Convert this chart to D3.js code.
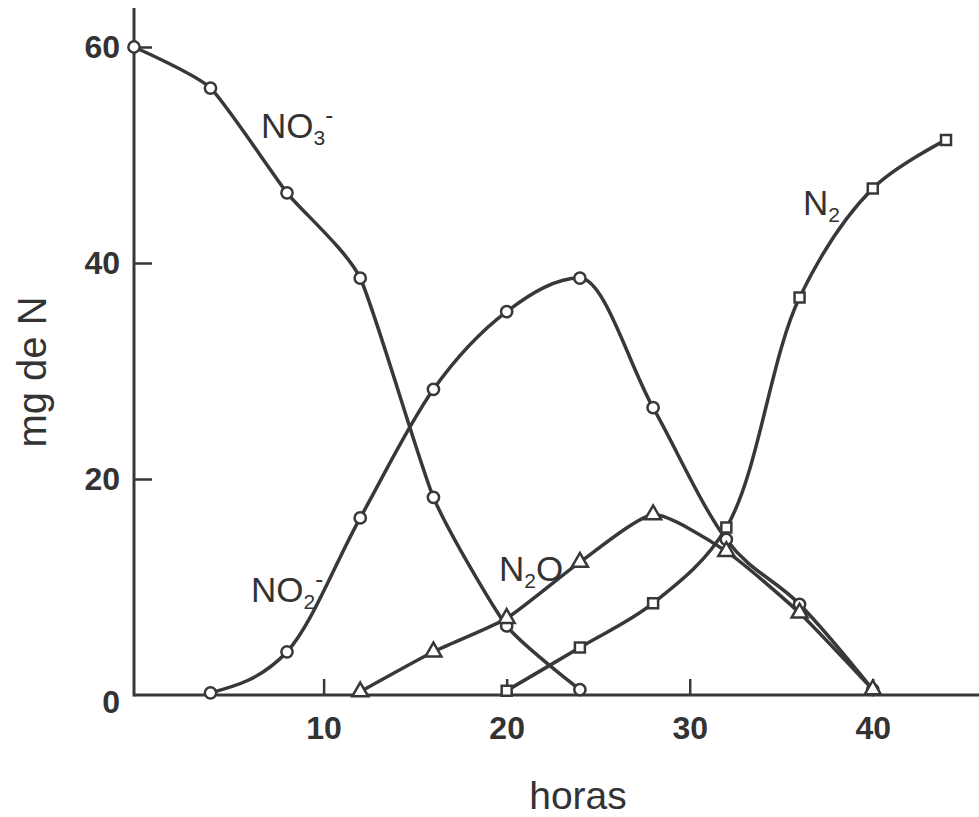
<!DOCTYPE html>
<html>
<head>
<meta charset="utf-8">
<script src="https://cdn.jsdelivr.net/npm/d3@7"></script>
<style>
  html, body { margin: 0; padding: 0; background: #fff; }
  svg { display: block; }
  text { font-family: "Liberation Sans", Arial, sans-serif; fill: #333; }
</style>
</head>
<body>
<div id="chart"></div>
<script>
// ---- data ----
const hoursNO3 = [0, 4, 8, 12, 16, 20, 24];
const valuesNO3 = [60, 56.2, 46.5, 38.6, 18.3, 6.4, 0.5];

const hoursNO2 = [4, 8, 12, 16, 20, 24, 28, 32, 36, 40];
const valuesNO2 = [0.2, 4.0, 16.4, 28.3, 35.5, 38.6, 26.6, 14.4, 8.4, 0.5];

const hoursN2O = [12, 16, 20, 24, 28, 32, 36, 40];
const valuesN2O = [0.3, 4.0, 7.1, 12.3, 16.7, 13.3, 7.6, 0.5];

const hoursN2 = [20, 24, 28, 32, 36, 40, 44];
const valuesN2 = [0.4, 4.4, 8.5, 15.5, 36.8, 46.9, 51.4];

const xTicks = [10, 20, 30, 40];
const yTicks = [0, 20, 40, 60];
const xTitle = "horas";
const yTitle = "mg de N";

// ---- drawing ----
const W = 979, H = 817;
const ink = "#383838";
const svg = d3.select("#chart").append("svg").attr("width", W).attr("height", H);

const x = d3.scaleLinear().domain([0, 8, 44]).range([134, 287, 946]);
const y = d3.scaleLinear().domain([0, 60]).range([695, 47]);

// axes
const xAxis = d3.axisBottom(x).tickValues(xTicks).tickSizeInner(-16).tickSizeOuter(0).tickPadding(21);
const gx = svg.append("g").attr("transform", `translate(0,${y(0)})`).call(xAxis);
gx.select(".domain").remove();
gx.append("line").attr("x1", x(0)).attr("x2", W).attr("y1", 0).attr("y2", 0)
  .attr("stroke", ink).attr("stroke-width", 3);
gx.selectAll(".tick line").attr("stroke", ink).attr("stroke-width", 2.5);
gx.selectAll(".tick text").attr("font-size", 32).attr("font-weight", "bold")
  .attr("font-family", '"Liberation Sans", Arial, sans-serif').attr("fill", "#333");

const yAxis = d3.axisLeft(y).tickValues(yTicks).tickSizeInner(-18).tickSizeOuter(0).tickPadding(14);
const gy = svg.append("g").attr("transform", `translate(${x(0)},0)`).call(yAxis);
gy.select(".domain").remove();
gy.append("line").attr("x1", 0).attr("x2", 0).attr("y1", 8).attr("y2", y(0) + 1.5)
  .attr("stroke", ink).attr("stroke-width", 3);
gy.selectAll(".tick line").attr("stroke", ink).attr("stroke-width", 2.5)
  .attr("display", d => d === 0 ? "none" : null);
gy.selectAll(".tick text").attr("font-size", 32).attr("font-weight", "bold")
  .attr("font-family", '"Liberation Sans", Arial, sans-serif').attr("fill", "#333")
  .attr("dy", d => d === 0 ? "0.55em" : "0.34em");

// axis titles
svg.append("text").attr("x", 578).attr("y", 809).attr("text-anchor", "middle")
  .attr("font-size", 39).text(xTitle);
svg.append("text").attr("transform", "translate(46,372) rotate(-90)")
  .attr("text-anchor", "middle").attr("font-size", 40).text(yTitle);

// series
const series = [
  { name: "NO3", hours: hoursNO3, values: valuesNO3, marker: "circle", curve: d3.curveCardinal.tension(0.45) },
  { name: "NO2", hours: hoursNO2, values: valuesNO2, marker: "circle", curve: d3.curveMonotoneX },
  { name: "N2O", hours: hoursN2O, values: valuesN2O, marker: "triangle", curve: d3.curveCardinal.tension(0.4) },
  { name: "N2", hours: hoursN2, values: valuesN2, marker: "square", curve: d3.curveCatmullRom.alpha(0.5) }
];

series.forEach(s => {
  const pts = s.hours.map((h, i) => [h, s.values[i]]);
  const line = d3.line().x(d => x(d[0])).y(d => y(d[1])).curve(s.curve);
  svg.append("path").datum(pts).attr("d", line)
    .attr("fill", "none").attr("stroke", ink).attr("stroke-width", 3.5)
    .attr("stroke-linejoin", "round").attr("stroke-linecap", "round");
});

const symbols = {
  circle: d3.symbol().type(d3.symbolCircle).size(100),
  square: d3.symbol().type(d3.symbolSquare).size(100),
  triangle: d3.symbol().type(d3.symbolTriangle).size(110)
};
series.forEach(s => {
  const pts = s.hours.map((h, i) => [h, s.values[i]]);
  svg.append("g").selectAll("path").data(pts).join("path")
    .attr("d", symbols[s.marker]())
    .attr("transform", d => `translate(${x(d[0])},${y(d[1])})`)
    .attr("fill", "#fff").attr("stroke", ink).attr("stroke-width", 2.5);
});

// series labels with sub/superscripts
function chem(xp, yp, parts) {
  const t = svg.append("text").attr("x", xp).attr("y", yp).attr("font-size", 35);
  parts.forEach(p => {
    const ts = t.append("tspan").text(p.t);
    if (p.sub) ts.attr("font-size", 21).attr("dy", 7);
    if (p.sup) ts.attr("font-size", 24).attr("dy", -22);
    if (p.reset) ts.attr("dy", p.reset);
  });
}
chem(261, 138, [{ t: "NO" }, { t: "3", sub: true }, { t: "-", sup: true }]);
chem(251, 602, [{ t: "NO" }, { t: "2", sub: true }, { t: "-", sup: true }]);
chem(499, 581, [{ t: "N" }, { t: "2", sub: true }, { t: "O", reset: -7 }]);
chem(803, 215, [{ t: "N" }, { t: "2", sub: true }]);
</script>
</body>
</html>
